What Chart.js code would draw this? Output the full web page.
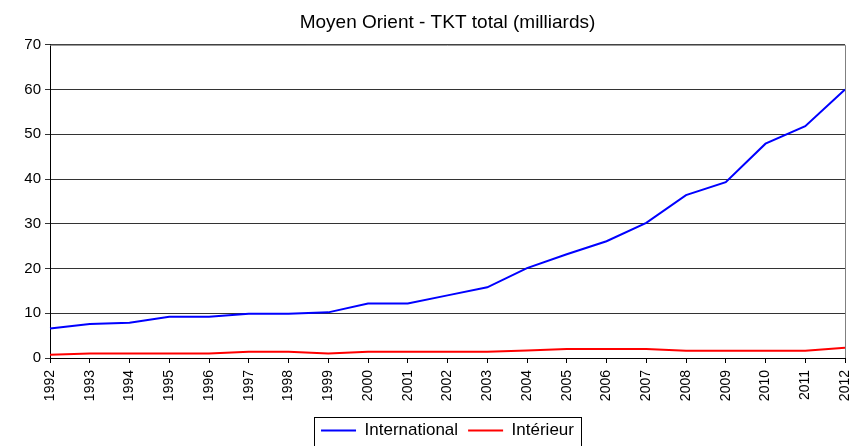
<!DOCTYPE html>
<html>
<head>
<meta charset="utf-8">
<script src="https://cdn.jsdelivr.net/npm/chart.js@4"></script>
<style>
  body { margin: 0; background: #fff; }
  #wrap { width: 852px; height: 446px; position: relative; }
</style>
</head>
<body>
<div id="wrap"><canvas id="graphique"></canvas></div>
<script>
// données
const annees = ['1992','1993','1994','1995','1996','1997','1998','1999','2000','2001','2002',
  '2003','2004','2005','2006','2007','2008','2009','2010','2011','2012'];
const international = [6.6, 7.6, 7.9, 9.2, 9.2, 9.9, 9.9, 10.2, 12.2, 12.2, 14.0,
  15.8, 20.1, 23.2, 26.1, 30.2, 36.4, 39.3, 47.9, 51.8, 60.0];
const interieur = [0.7, 1.0, 1.0, 1.0, 1.0, 1.4, 1.4, 1.0, 1.4, 1.4, 1.4,
  1.4, 1.7, 2.0, 2.0, 2.0, 1.6, 1.6, 1.6, 1.6, 2.3];
const graduationsY = [0, 10, 20, 30, 40, 50, 60, 70];

const police = 'Liberation Sans, Arial, sans-serif';

// cadre gris autour de la zone de tracé + cadre de la légende
const cadres = {
  id: 'cadres',
  afterDraw(chart) {
    const ctx = chart.ctx;
    const a = chart.chartArea;
    ctx.save();
    ctx.strokeStyle = '#808080';
    ctx.lineWidth = 1;
    ctx.beginPath();
    ctx.moveTo(a.left, a.top + 0.5);
    ctx.lineTo(a.right + 0.5, a.top + 0.5);
    ctx.lineTo(a.right + 0.5, a.bottom);
    ctx.stroke();

    const boites = chart.legend.legendHitBoxes;
    if (boites && boites.length) {
      let g = Infinity, d = -Infinity, h = Infinity;
      boites.forEach(b => {
        g = Math.min(g, b.left);
        d = Math.max(d, b.left + b.width);
        h = Math.min(h, b.top);
      });
      ctx.strokeStyle = '#000';
      ctx.strokeRect(Math.round(g - 7) + 0.5, Math.round(h - 5) + 0.5, Math.round(d - g + 14), 40);
    }
    ctx.restore();
  }
};

new Chart(document.getElementById('graphique'), {
  type: 'line',
  data: {
    labels: annees,
    datasets: [{
      label: 'International',
      data: international,
      borderColor: '#0000ff',
      backgroundColor: '#0000ff',
      borderWidth: 2,
      pointRadius: 0,
      tension: 0,
      fill: false
    }, {
      label: 'Intérieur',
      data: interieur,
      borderColor: '#ff0000',
      backgroundColor: '#ff0000',
      borderWidth: 2,
      pointRadius: 0,
      tension: 0,
      fill: false
    }]
  },
  options: {
    responsive: true,
    maintainAspectRatio: false,
    animation: false,
    layout: { padding: { left: 0, right: 7, top: 0, bottom: -3 } },
    plugins: {
      title: {
        display: true,
        text: 'Moyen Orient - TKT total (milliards)',
        color: '#000',
        fullSize: false,
        font: { family: police, size: 19, weight: 'normal' },
        padding: { top: 11, bottom: 11 }
      },
      legend: {
        position: 'bottom',
        fullSize: false,
        labels: {
          color: '#000',
          font: { family: police, size: 17 },
          usePointStyle: true,
          pointStyle: 'line',
          pointStyleWidth: 35,
          padding: 10
        }
      },
      tooltip: { enabled: false }
    },
    scales: {
      x: {
        offset: false,
        afterFit(scale) {
          scale.height = 54;
          scale.paddingLeft = 0;
          scale.paddingRight = 0;
        },
        grid: { drawOnChartArea: false, drawTicks: true, tickLength: 5, color: '#000' },
        border: { color: '#000', width: 1 },
        ticks: {
          color: '#000',
          font: { family: police, size: 14 },
          minRotation: 90,
          maxRotation: 90,
          autoSkip: false,
          padding: 7
        }
      },
      y: {
        min: 0,
        max: 70,
        afterFit(scale) { scale.width = 50; },
        afterBuildTicks(scale) { scale.ticks = graduationsY.map(v => ({ value: v })); },
        grid: { color: '#333', tickLength: 5, drawTicks: true },
        border: { color: '#000', width: 1 },
        ticks: {
          color: '#000',
          font: { family: police, size: 15 },
          padding: 4
        }
      }
    }
  },
  plugins: [cadres]
});
</script>
</body>
</html>
